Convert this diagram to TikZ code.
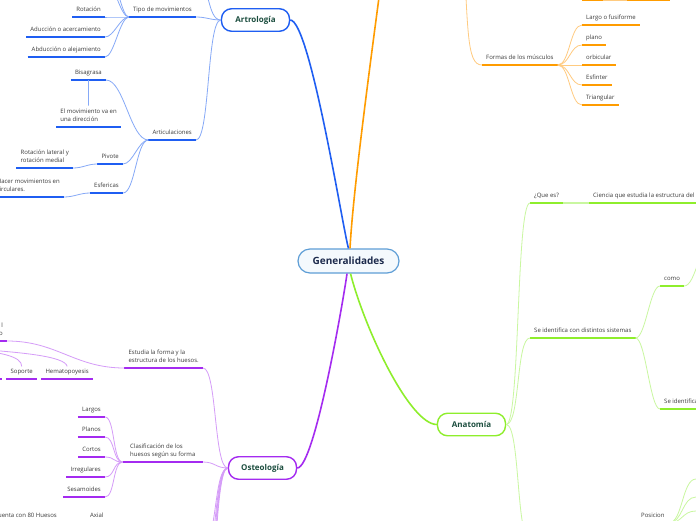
\documentclass[tikz,border=0pt]{standalone}
\usepackage{fontspec}
\setmainfont{Open Sans}
\usepackage{xcolor}
\usepackage{tikz}

\definecolor{cblue}{HTML}{1F5EF2}
\definecolor{cbluel}{HTML}{86A9F7}
\definecolor{corange}{HTML}{FF9C00}
\definecolor{corangel}{HTML}{FFCB80}
\definecolor{cgreen}{HTML}{8EEE2C}
\definecolor{cgreenl}{HTML}{C9F7A0}
\definecolor{cpurple}{HTML}{A42BF0}
\definecolor{cpurplel}{HTML}{D59CF8}
\definecolor{ink}{HTML}{3A3A3A}
\definecolor{topicink}{HTML}{1B4D3E}
\definecolor{genink}{HTML}{1C2A4C}
\definecolor{genline}{HTML}{5E9ED6}
\definecolor{genfill}{HTML}{F4F9FD}

\begin{document}
\begin{tikzpicture}[x=1pt, y=1pt,
    txt/.style={font=\fontsize{6}{8.5}\selectfont, text=ink, inner xsep=4pt, inner ysep=2.5pt, text depth=2.8pt, align=left},
    twig/.style={txt, append after command={(\tikzlastnode.south west) edge[draw=#1, line width=2pt] (\tikzlastnode.south east)}},
    topic/.style={draw=#1, line width=1.4pt, fill=white, rounded corners=10pt, minimum width=68pt, minimum height=22.5pt, font=\fontsize{8}{10}\selectfont\bfseries, text=topicink},
    main/.style={draw=#1, line width=1.6pt},
    lnk/.style={draw=#1, line width=0.8pt},
    lt/.style={out=180, in=0, distance=#1},
    rt/.style={out=0, in=180, distance=#1}
]
    \fill[white] (0,0) rectangle (696,-520);
    \useasboundingbox (0,0) rectangle (696,-520);
    \clip (0,0) rectangle (696,-520);

    % centre
    \node[draw=genline, line width=1.2pt, fill=genfill, rounded corners=12pt, minimum width=101pt, minimum height=24pt, font=\fontsize{10}{12}\selectfont\bfseries, text=genink] (gen) at (348.5,-261) {Generalidades};

    % Artrologia
    \node[topic=cblue] (art) at (255.5,-20) {Artrología};
    \node[twig=cblue, anchor=south east] (tipo) at (196,-17) {Tipo de movimientos};
    \node[twig=cblue, anchor=south east] (rot) at (105,-17) {Rotación};
    \node[twig=cblue, anchor=south east] (adu) at (105,-37) {Aducción o acercamiento};
    \node[twig=cblue, anchor=south east] (abd) at (105,-57) {Abducción o alejamiento};
    \node[twig=cblue, anchor=south east] (arti) at (196,-140) {Articulaciones};
    \node[twig=cblue, anchor=south east] (bis) at (106,-80) {Bisagrasa};
    \node[twig=cblue, anchor=south east] (mov) at (121,-127) {El movimiento va en\\una dirección};
    \node[twig=cblue, anchor=south east] (piv) at (123,-164) {Pivote};
    \node[twig=cblue, anchor=south east] (rlm) at (73,-168) {Rotación lateral y\\rotación medial};
    \node[twig=cblue, anchor=south east] (esf) at (123,-193) {Esfericas};
    \node[twig=cblue, anchor=south east] (hac) at (64,-197) {Hacer movimientos en\\circulares.};
    \coordinate (artup) at (196,20);
    \coordinate (tipoup1) at (105,20);
    \coordinate (tipoup2) at (105,40);

    \draw[main=cblue] (gen.north) .. controls (343,-230) and (310,-20) .. (art.east);
    \draw[lnk=cbluel] (art.west) to[lt=10pt] (tipo.south east);
    \draw[lnk=cbluel] (art.west) to[lt=14pt] (artup);
    \draw[lnk=cbluel] (art.west) to[lt=14pt] (arti.south east);
    \draw[lnk=cbluel] (tipo.south west) to[lt=9pt] (rot.south east);
    \draw[lnk=cbluel] (tipo.south west) to[lt=9pt] (adu.south east);
    \draw[lnk=cbluel] (tipo.south west) to[lt=9pt] (abd.south east);
    \draw[lnk=cbluel] (tipo.south west) to[lt=9pt] (tipoup1);
    \draw[lnk=cbluel] (tipo.south west) to[lt=9pt] (tipoup2);
    \draw[lnk=cbluel] (arti.south west) to[lt=18pt] (bis.south east);
    \draw[lnk=cbluel] (arti.south west) to[lt=10pt] (piv.south east);
    \draw[lnk=cbluel] (arti.south west) to[lt=12pt] (esf.south east);
    \draw[lnk=cbluel] (bis.south) -- (mov.north);
    \draw[lnk=cbluel] (piv.south west) to[lt=10pt] (rlm.south east);
    \draw[lnk=cbluel] (esf.south west) to[lt=10pt] (hac.south east);

    % musculos (orange)
    \coordinate (mio) at (384,40);
    \coordinate (formup) at (462,90);
    \node[twig=corange, anchor=south west] (formas) at (482,-65) {Formas de los músculos};
    \node[twig=corange, anchor=south west] (lar) at (582,-25) {Largo o fusiforme};
    \node[twig=corange, anchor=south west] (pla) at (582,-45) {plano};
    \node[twig=corange, anchor=south west] (orb) at (582,-65) {orbicular};
    \node[twig=corange, anchor=south west] (esfi) at (582,-85) {Esfinter};
    \node[twig=corange, anchor=south west] (tri) at (582,-105) {Triangular};
    \node[twig=corange, anchor=south west, minimum width=21pt] (ohid1) at (582,0) {};
    \node[twig=corange, anchor=south west, minimum width=43pt] (ohid2) at (627,0) {};

    \draw[main=corange] ([xshift=1.5pt]gen.north) .. controls (353,-190) and (372,-50) .. (mio);
    \draw[lnk=corangel] (formas.south west) .. controls (466,-65) and (468,-30) .. (formup);
    \draw[lnk=corangel] (formas.south east) to[rt=12pt] (lar.south west);
    \draw[lnk=corangel] (formas.south east) to[rt=12pt] (pla.south west);
    \draw[lnk=corangel] (formas.south east) to[rt=12pt] (orb.south west);
    \draw[lnk=corangel] (formas.south east) to[rt=12pt] (esfi.south west);
    \draw[lnk=corangel] (formas.south east) to[rt=12pt] (tri.south west);
    \draw[corangel, line width=2pt] (ohid1.south east) -- (ohid2.south west);

    % Anatomia (green)
    \node[topic=cgreen] (ana) at (471.5,-424.5) {Anatomía};
    \node[twig=cgreen, anchor=south west] (que) at (530,-203) {¿Que es?};
    \node[twig=cgreen, anchor=south west] (cien) at (589,-203) {Ciencia que estudia la estructura del};
    \node[twig=cgreen, anchor=south west] (sis) at (530,-338) {Se identifica con distintos sistemas};
    \node[twig=cgreen, anchor=south west] (como) at (660,-286) {como};
    \node[twig=cgreen, anchor=south west] (seid) at (660,-409) {Se identifica};
    \node[twig=cgreen, anchor=south west] (pos) at (637,-523) {Posicion};
    \coordinate (comoup) at (712,-240);
    \coordinate (anadown) at (530,-540);
    \coordinate (pos1) at (696,-479);
    \coordinate (pos2) at (696,-497);
    \coordinate (pos3) at (696,-511);

    \draw[main=cgreen] ([xshift=2pt]gen.south) .. controls (365,-330) and (410,-424.5) .. (ana.west);
    \draw[lnk=cgreenl] (ana.east) to[rt=14pt] (que.south west);
    \draw[lnk=cgreenl] (ana.east) to[rt=14pt] (sis.south west);
    \draw[lnk=cgreenl] (ana.east) to[rt=14pt] (anadown);
    \draw[cgreenl, line width=2pt] (que.south east) -- (cien.south west);
    \draw[lnk=cgreenl] (sis.south east) to[rt=10pt] (como.south west);
    \draw[lnk=cgreenl] (sis.south east) to[rt=10pt] (seid.south west);
    \draw[lnk=cgreenl] (como.south east) to[rt=12pt] (comoup);
    \draw[lnk=cgreenl] (pos.south east) to[rt=14pt] (pos1);
    \draw[lnk=cgreenl] (pos.south east) to[rt=14pt] (pos2);
    \draw[lnk=cgreenl] (pos.south east) to[rt=14pt] (pos3);

    % Osteologia (purple)
    \node[topic=cpurple] (ost) at (262.5,-468) {Osteología};
    \node[twig=cpurple, anchor=south east] (est) at (203,-368) {Estudia la forma y la\\ estructura de los huesos.};
    \node[twig=cpurple, anchor=south east, minimum width=80pt] (cla) at (203,-462) {Clasificación de los\\huesos según su forma};
    \node[twig=cpurple, anchor=south east] (larg) at (105,-417) {Largos};
    \node[twig=cpurple, anchor=south east] (plan) at (105,-437) {Planos};
    \node[twig=cpurple, anchor=south east] (cort) at (105,-457) {Cortos};
    \node[twig=cpurple, anchor=south east] (irr) at (105,-477) {Irregulares};
    \node[twig=cpurple, anchor=south east] (ses) at (105,-497) {Sesamoides};
    \node[twig=cpurple, anchor=south east, align=right] (lo) at (7,-341) {l\\o};
    \node[twig=cpurple, anchor=south east] (sop) at (37,-379) {Soporte};
    \node[twig=cpurple, anchor=south east] (hem) at (93,-379) {Hematopoyesis};
    \node[twig=cpurple, anchor=south east, minimum width=12pt] (phid) at (2,-379) {};
    \node[twig=cpurple, anchor=south west] (axi) at (86,-523) {Axial};
    \node[twig=cpurple, anchor=south east] (cue) at (61,-523) {Cuenta con 80 Huesos};
    \coordinate (ostpar) at (-40,-348);
    \coordinate (od1) at (203,-545);
    \coordinate (od2) at (203,-565);
    \coordinate (od3) at (203,-585);
    \coordinate (od4) at (203,-605);
    \coordinate (od5) at (203,-625);

    \draw[main=cpurple] ([xshift=-1.5pt]gen.south) .. controls (345,-290) and (315,-468) .. (ost.east);
    \draw[lnk=cpurplel] (ost.west) to[lt=14pt] (est.south east);
    \draw[lnk=cpurplel] (ost.west) to[lt=12pt] (cla.south east);
    \draw[lnk=cpurplel] (ost.west) to[lt=14pt] (od1);
    \draw[lnk=cpurplel] (ost.west) to[lt=14pt] (od2);
    \draw[lnk=cpurplel] (ost.west) to[lt=14pt] (od3);
    \draw[lnk=cpurplel] (ost.west) to[lt=14pt] (od4);
    \draw[lnk=cpurplel] (ost.west) to[lt=14pt] (od5);
    \draw[lnk=cpurplel] (cla.south west) to[lt=10pt] (larg.south east);
    \draw[lnk=cpurplel] (cla.south west) to[lt=10pt] (plan.south east);
    \draw[lnk=cpurplel] (cla.south west) to[lt=10pt] (cort.south east);
    \draw[lnk=cpurplel] (cla.south west) to[lt=10pt] (irr.south east);
    \draw[lnk=cpurplel] (cla.south west) to[lt=10pt] (ses.south east);
    \draw[lnk=cpurplel] (lo.south east) to[rt=50pt] (est.south west);
    \draw[lnk=cpurplel] (ostpar) .. controls (0,-352) and (22,-356) .. (sop.north);
    \draw[lnk=cpurplel] (ostpar) .. controls (20,-352) and (65,-356) .. (hem.north);
\end{tikzpicture}
\end{document}
